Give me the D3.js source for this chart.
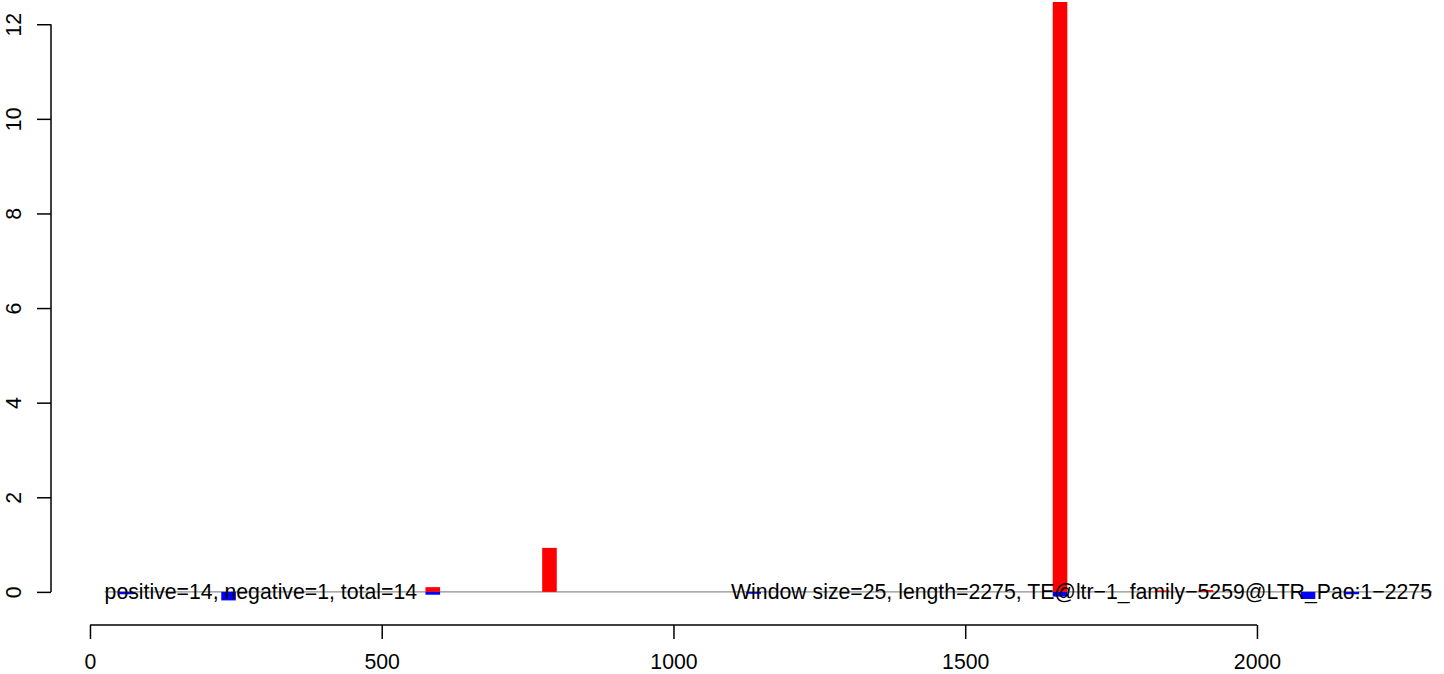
<!DOCTYPE html>
<html>
<head>
<meta charset="utf-8">
<script src="https://cdn.jsdelivr.net/npm/d3@7"></script>
<style>
  body { margin: 0; background: #fff; }
  text { font-family: "Liberation Sans", Arial, sans-serif; }
</style>
</head>
<body>
<script>
var svg_width = 1444;
var svg_height = 674;

// window starts (bp) and heights of the positive (red) and negative (blue) bars
var posStart = [575, 775, 1650, 1825, 1900];
var posValue = [0.1, 0.93, 13, 0.03, 0.04];
var negStart = [50, 225, 575, 1125, 1650, 2075, 2150];
var negValue = [-0.05, -0.18, -0.06, -0.04, -0.1, -0.15, -0.05];
var windowSize = 25;

var xTicks = [0, 500, 1000, 1500, 2000];
var yTicks = [0, 2, 4, 6, 8, 10, 12];
var leftLabel = 'positive=14, negative=1, total=14';
var rightLabel = 'Window size=25, length=2275, TE@ltr\u22121_family\u22125259@LTR_Pao:1\u22122275';
var lineFrom = 25, lineTo = 2300;

var plot = {left: 51, right: 1432, top: 2, bottom: 625};
var fontSize = 21.25;

var xscale = d3.scaleLinear().domain([-66.8, 2300]).range([plot.left, plot.right]);
var yscale = d3.scaleLinear().domain([-0.70, 12.47]).range([plot.bottom, plot.top]);

var svg = d3.select('body').append('svg')
            .attr('width', svg_width)
            .attr('height', svg_height);

svg.append('clipPath').attr('id', 'clip')
   .append('rect')
   .attr('x', plot.left).attr('y', plot.top)
   .attr('width', plot.right - plot.left).attr('height', plot.bottom - plot.top);

var g = svg.append('g').attr('clip-path', 'url(#clip)');

// zero line
g.append('line')
  .attr('x1', xscale(lineFrom)).attr('x2', xscale(lineTo))
  .attr('y1', yscale(0)).attr('y2', yscale(0))
  .attr('stroke', '#8f8f8f').attr('stroke-width', 1.3);

g.selectAll('rect.pos').data(posStart).enter().append('rect')
  .attr('class', 'pos')
  .attr('x', function(d) { return xscale(d); })
  .attr('width', function(d) { return xscale(d + windowSize) - xscale(d); })
  .attr('y', function(d, i) { return yscale(posValue[i]); })
  .attr('height', function(d, i) { return yscale(0) - yscale(posValue[i]); })
  .attr('fill', '#ff0000');

g.selectAll('rect.neg').data(negStart).enter().append('rect')
  .attr('class', 'neg')
  .attr('x', function(d) { return xscale(d); })
  .attr('width', function(d) { return xscale(d + windowSize) - xscale(d); })
  .attr('y', yscale(0))
  .attr('height', function(d, i) { return yscale(negValue[i]) - yscale(0); })
  .attr('fill', '#0000ff');

// labels on the zero line
svg.append('text')
  .attr('x', xscale(lineFrom)).attr('y', yscale(0) + 7.5)
  .attr('font-size', fontSize)
  .text(leftLabel);

svg.append('text')
  .attr('x', xscale(lineTo)).attr('y', yscale(0) + 7.5)
  .attr('font-size', fontSize)
  .attr('text-anchor', 'end')
  .text(rightLabel);

// axes
var xaxis = d3.axisBottom(xscale).tickValues(xTicks).tickFormat(d3.format('d'))
              .tickSize(14).tickSizeOuter(0);
var yaxis = d3.axisLeft(yscale).tickValues(yTicks).tickFormat(d3.format('d'))
              .tickSize(14).tickSizeOuter(0);

var gx = svg.append('g')
    .attr('transform', 'translate(0,' + plot.bottom + ')')
    .call(xaxis);
gx.select('.domain').remove();
gx.append('line')
  .attr('x1', xscale(xTicks[0])).attr('x2', xscale(xTicks[xTicks.length - 1]))
  .attr('stroke', '#000').attr('stroke-width', 1.5);
gx.selectAll('.tick line').attr('stroke-width', 1.5);
gx.selectAll('.tick text')
  .attr('font-size', fontSize).attr('font-family', null)
  .attr('dy', null).attr('y', 44).attr('fill', '#000');

var gy = svg.append('g')
    .attr('transform', 'translate(' + plot.left + ',0)')
    .call(yaxis);
gy.select('.domain').remove();
gy.append('line')
  .attr('y1', yscale(yTicks[0])).attr('y2', yscale(yTicks[yTicks.length - 1]))
  .attr('stroke', '#000').attr('stroke-width', 1.5);
gy.selectAll('.tick line').attr('stroke-width', 1.5);
gy.selectAll('.tick text')
  .attr('font-size', fontSize).attr('font-family', null)
  .attr('x', null).attr('dy', null)
  .attr('text-anchor', 'middle')
  .attr('transform', 'translate(-30,0) rotate(-90)')
  .attr('fill', '#000');
</script>
</body>
</html>
